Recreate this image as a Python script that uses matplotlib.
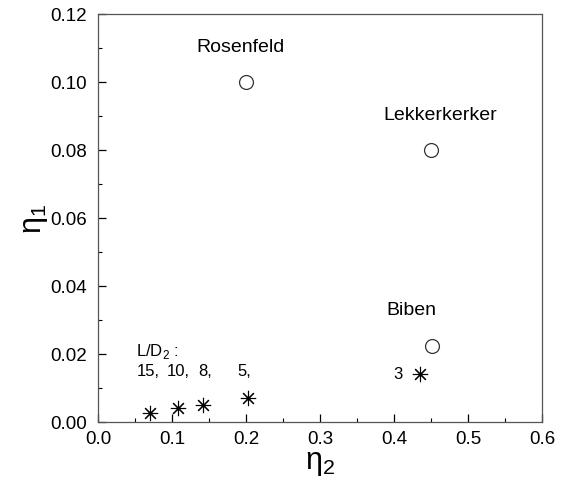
import matplotlib
matplotlib.use("Agg")
import matplotlib.pyplot as plt
from matplotlib.ticker import MultipleLocator, FormatStrFormatter

plt.rcParams['font.family'] = ['Liberation Sans', 'DejaVu Sans']
plt.rcParams['mathtext.fontset'] = 'custom'
plt.rcParams['mathtext.rm'] = 'Liberation Sans'

# Theory points (open circles)
theory_names = ["Rosenfeld", "Lekkerkerker", "Biben"]
theory_eta2 = [0.20, 0.45, 0.451]
theory_eta1 = [0.100, 0.080, 0.0224]

# Simulation points (asterisks), L/D2 values
ld_labels = ["15,", "10,", "8,", "5,", "3"]
sim_eta2 = [0.070, 0.108, 0.142, 0.203, 0.435]
sim_eta1 = [0.0026, 0.0041, 0.0050, 0.0071, 0.0141]

fig = plt.figure(figsize=(5.67, 4.81), dpi=100)
ax = fig.add_axes([0.173, 0.121, 0.783, 0.848])

ax.plot(theory_eta2, theory_eta1, linestyle='none', marker='o', markersize=10,
        markerfacecolor='white', markeredgecolor='#333333', markeredgewidth=0.9)
ax.plot(sim_eta2, sim_eta1, linestyle='none', marker=(8, 2, 0), markersize=11,
        color='black', markeredgewidth=0.8)

ax.set_xlim(0, 0.6)
ax.set_ylim(0, 0.12)
ax.xaxis.set_major_locator(MultipleLocator(0.1))
ax.xaxis.set_minor_locator(MultipleLocator(0.05))
ax.yaxis.set_major_locator(MultipleLocator(0.02))
ax.yaxis.set_minor_locator(MultipleLocator(0.01))
ax.xaxis.set_major_formatter(FormatStrFormatter('%.1f'))
ax.yaxis.set_major_formatter(FormatStrFormatter('%.2f'))
ax.tick_params(which='both', direction='in', top=False, right=False, labelsize=13.5)
ax.tick_params(axis='x', which='major', pad=6)
ax.tick_params(axis='y', which='major', pad=8)
ax.tick_params(which='major', length=6, width=0.9)
ax.tick_params(which='minor', length=3, width=0.8)
for s in ax.spines.values():
    s.set_color('#555555')
    s.set_linewidth(0.9)

ax.set_xlabel('η$_\\mathrm{2}$', fontsize=22, labelpad=0)
ax.set_ylabel('η$_\\mathrm{1}$', fontsize=22, labelpad=0)

# Theory labels
label_pos = [(0.192, 0.1105), (0.462, 0.0905), (0.424, 0.0330)]
for name, (x, y) in zip(theory_names, label_pos):
    ax.text(x, y, name, fontsize=14, ha='center', va='center')

ax.text(0.051, 0.0210, r'L/D$_\mathrm{2}$ :', fontsize=12, ha='left', va='center')
ld_pos = [(0.052, 0.0150), (0.093, 0.0150), (0.135, 0.0150), (0.188, 0.0150), (0.399, 0.0141)]
for lab, (x, y) in zip(ld_labels, ld_pos):
    ax.text(x, y, lab, fontsize=12, ha='left', va='center')

fig.savefig("out.png", dpi=100)
